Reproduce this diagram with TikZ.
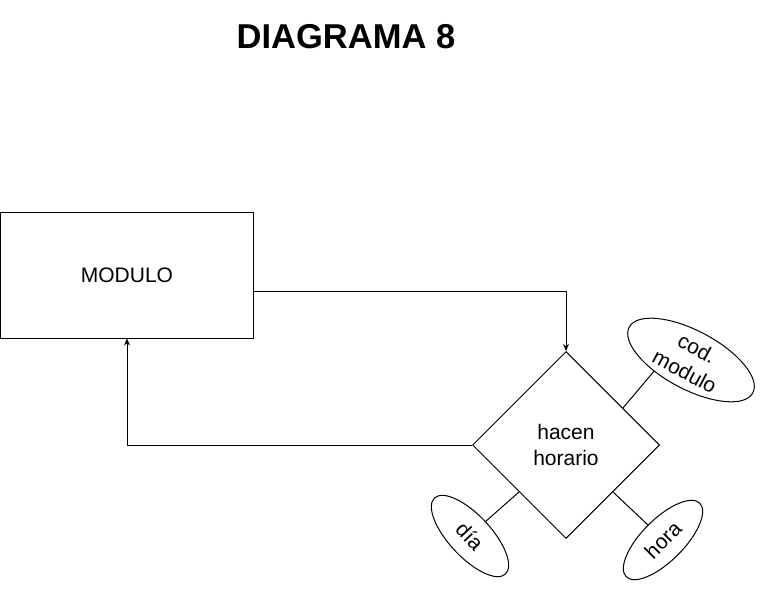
\documentclass[tikz,border=0pt]{standalone}
\usepackage{fontspec}
\setmainfont{Liberation Sans}
\usetikzlibrary{shapes.geometric,arrows.meta}

\begin{document}
\begin{tikzpicture}[x=1pt,y=-1pt,line width=1pt,
  entity/.style={draw,rectangle,minimum width=253,minimum height=126,inner sep=0},
  relation/.style={draw,diamond,aspect=1,minimum width=187,minimum height=187,inner sep=0,align=center},
  attrib/.style={draw,ellipse,inner sep=0,align=center},
  conn/.style={-{Stealth[length=7pt,width=6pt]}},
  txt/.style={font=\fontsize{21}{26}\selectfont}]
\useasboundingbox (0,0) rectangle (766,589);
\node[font=\fontsize{34.5}{40}\selectfont\bfseries] (title) at (346,37) {DIAGRAMA 8};
\node [entity,txt] (modulo) at (127,275) {MODULO};
\node [relation,txt] (hacen) at (566,445) {hacen\\horario};
\node [attrib,txt,minimum width=140,minimum height=56,rotate=-28] (codmod) at (691,360) {cod.\\modulo};
\node [attrib,txt,minimum width=104,minimum height=42,rotate=-47] (dia) at (470,536) {día};
\node [attrib,txt,minimum width=104,minimum height=42,rotate=45] (hora) at (663,540) {hora};
\draw [conn] ([yshift=-16pt]modulo.east) -| (hacen.north);
\draw [conn] (hacen.west) -| (modulo.south);
\draw (hacen.33) -- (codmod.225);
\draw (hacen.south west) -- (dia.north);
\draw (hacen.south east) -- (hora.north);
\end{tikzpicture}
\end{document}
